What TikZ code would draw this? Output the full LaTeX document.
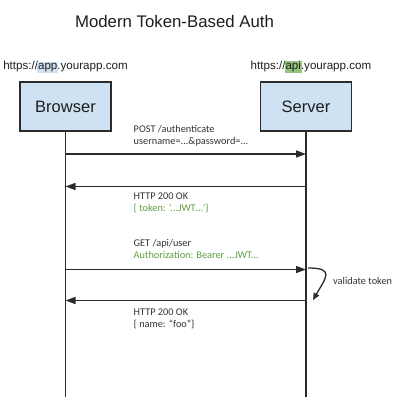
\documentclass[tikz,border=0pt]{standalone}
\usepackage{fontspec}
\setmainfont{Liberation Sans}
\newfontfamily\notefont{Carlito}
\usepackage{xcolor}
\usepackage{tikz}
\usetikzlibrary{arrows.meta,positioning}
\definecolor{ink}{HTML}{1E1E1E}
\definecolor{wire}{HTML}{2B2B2B}
\definecolor{boxblue}{HTML}{CFE2F3}
\definecolor{hlblue}{HTML}{CFE2F3}
\definecolor{hlgreen}{HTML}{93C47D}
\definecolor{jwtgreen}{HTML}{5E9E3F}
\definecolor{notegray}{HTML}{333333}
\newcommand{\hlbox}[2]{{\setlength{\fboxsep}{1pt}\kern-1pt\colorbox{#1}{#2}\kern-1pt}}
\tikzset{
  >={Triangle[length=10pt,width=7pt]},
  every node/.style={text=ink,inner sep=0pt},
  actor/.style={draw=wire,line width=1.5pt,fill=boxblue,minimum width=91pt,minimum height=49pt,font=\fontsize{16.5}{19}\selectfont},
  url/.style={font=\fontsize{11.6}{13}\selectfont},
  lifeline/.style={draw=wire,line width=1.5pt},
  msg/.style={->,draw=wire,line width=1.5pt},
  selfmsg/.style={->,draw=wire,line width=1.3pt,>={Triangle[length=7pt,width=6pt]}},
  note/.style={anchor=north west,align=left,text=notegray,font=\notefont\fontsize{10.3}{12}\selectfont},
  jwt/.style={text=jwtgreen}
}
\begin{document}
\begin{tikzpicture}[x=1pt,y=-1pt]
  \useasboundingbox (0,0) rectangle (403,417);

  \node[font=\fontsize{16.8}{20}\selectfont] (title) at (174.5,21) {Modern Token-Based Auth};
  \node[url] (appUrl) at (65.5,67) {https://\hlbox{hlblue}{app}.yourapp.com};
  \node[url] (apiUrl) at (311,67) {https://\hlbox{hlgreen}{api}.yourapp.com};

  \node[actor] (browser) at (65.5,106.5) {Browser};
  \node[actor,right=148pt of browser] (server) {Server};

  % lifelines
  \coordinate (browserEnd) at (browser.south |- 0,397);
  \coordinate (serverEnd) at (server.south |- 0,397);
  \draw[lifeline] (browser.south) -- (browserEnd);
  \draw[lifeline] (server.south) -- (serverEnd);

  % message anchors on the lifelines
  \coordinate (bLogin) at (browser.south |- 0,154);
  \coordinate (sLogin) at (server.south |- 0,154);
  \coordinate (bToken) at (browser.south |- 0,186.5);
  \coordinate (sToken) at (server.south |- 0,186.5);
  \coordinate (bGet) at (browser.south |- 0,269.5);
  \coordinate (sGet) at (server.south |- 0,269.5);
  \coordinate (bUser) at (browser.south |- 0,300.5);
  \coordinate (sUser) at (server.south |- 0,300.5);

  \draw[msg] (bLogin) -- (sLogin);
  \draw[msg] (sToken) -- (bToken);
  \draw[msg] (bGet) -- (sGet);
  \draw[msg] (sUser) -- (bUser);

  \node[note] (loginNote) at (133.5,125) {POST /authenticate\\username=...\&password=...};
  \node[note] (tokenNote) at (133.5,192.5) {HTTP 200 OK\\\textcolor{jwtgreen}{\{ token: ‘...JWT…’\}}};
  \node[note] (getNote) at (133.5,239) {GET /api/user\\\textcolor{jwtgreen}{Authorization: Bearer ...JWT...}};
  \node[note] (userNote) at (133.5,308.5) {HTTP 200 OK\\\{ name: “foo”\}};

  % validate token
  \coordinate (valStart) at (308,268);
  \coordinate (valEnd) at (313,300);
  \draw[selfmsg] (valStart) to[out=0,in=60,looseness=2.1] (valEnd);
  \node[note,anchor=west] (valNote) at (333,281) {validate token};
\end{tikzpicture}
\end{document}
